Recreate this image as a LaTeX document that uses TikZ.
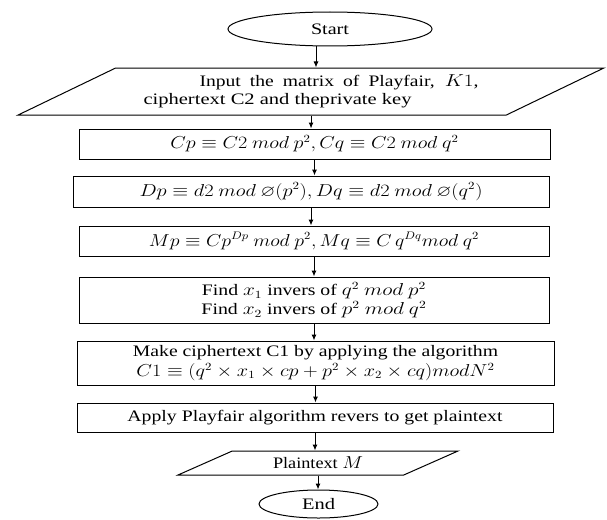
\documentclass[tikz,border=0pt]{standalone}
\usepackage{fontspec}
\setmainfont{Liberation Serif}
\usepackage{amssymb}
\usepackage{graphicx}
\usetikzlibrary{shapes.geometric,arrows.meta}
\newcommand\fw[2]{\resizebox{#1}{\height}{#2}}
\begin{document}
\begin{tikzpicture}[x=1pt,y=-1pt,
  every node/.style={font=\fontsize{16}{18}\selectfont, inner sep=0pt, text=black},
  box/.style={draw, line width=1pt, rectangle, align=center},
  term/.style={draw, line width=1pt, ellipse},
  io/.style={draw, line width=1pt, trapezium, trapezium stretches=true},
  arr/.style={line width=1pt, -{Latex[length=6pt,width=5pt]}}]
\useasboundingbox (0,0) rectangle (607,519);

\node[term, minimum width=204pt, minimum height=34pt] (start) at (330,29) {\fw{38pt}{Start}};
\node[io, trapezium left angle=21.7, trapezium right angle=158.3,
      minimum width=588pt, minimum height=47pt, align=left] (input) at (311,91.5)
  {\hspace*{56pt}\fw{279pt}{\makebox[228pt][s]{Input the matrix of Playfair, $K1$,}}\\
   \fw{268pt}{ciphertext C2 and theprivate key}};
\node[box, minimum width=471pt, minimum height=30pt] (b1) at (314.5,144)
  {\fw{288pt}{$Cp \equiv C2\ mod\ p^2, Cq \equiv C2\ mod\ q^2$}};
\node[box, minimum width=476pt, minimum height=31pt] (b2) at (311,191.5)
  {\fw{343pt}{$Dp \equiv d2\ mod\ \varnothing(p^2), Dq \equiv d2\ mod\ \varnothing(q^2)$}};
\node[box, minimum width=470pt, minimum height=30pt] (b3) at (314,241)
  {\fw{330pt}{$Mp \equiv Cp^{Dp}\ mod\ p^2, Mq \equiv C\,q^{Dq} mod\ q^2$}};
\node[box, minimum width=470pt, minimum height=46pt] (b4) at (314,300)
  {\fw{224pt}{Find $x_1$ invers of $q^2\ mod\ p^2$}\\[1pt] \fw{225pt}{Find $x_2$ invers of $p^2\ mod\ q^2$}};
\node[box, minimum width=477pt, minimum height=44pt] (b5) at (315.5,363)
  {\fw{365pt}{Make ciphertext C1 by applying the algorithm}\\[2pt]
   \fw{358pt}{$C1 \equiv (q^2 \times x_1 \times cp + p^2 \times x_2 \times cq) mod N^2$}};
\node[box, minimum width=476pt, minimum height=29pt] (b6) at (315,417.5)
  {\fw{375pt}{Apply Playfair algorithm revers to get plaintext}};
\node[io, trapezium left angle=22.8, trapezium right angle=157.2,
      minimum width=280pt, minimum height=24pt] (out) at (318,463) {\fw{90pt}{Plaintext $M$}};
\node[term, minimum width=119pt, minimum height=28pt] (end) at (318.5,504) {\fw{33pt}{End}};

\draw[arr] ([xshift=-14pt]start.south) -- ([xshift=-14pt]start.south |- input.north);
\draw[arr] (input.south) -- (input.south |- b1.north);
\draw[arr] (b1.south) -- (b1.south |- b2.north);
\draw[arr] (b2.south) -- (b2.south |- b3.north);
\draw[arr] (b3.south) -- (b3.south |- b4.north);
\draw[arr] (b4.south) -- (b4.south |- b5.north);
\draw[arr] (b5.south) -- (b5.south |- b6.north);
\draw[arr] (b6.south) -- (b6.south |- out.north);
\draw[arr] (out.south) -- (out.south |- end.north);
\end{tikzpicture}
\end{document}
